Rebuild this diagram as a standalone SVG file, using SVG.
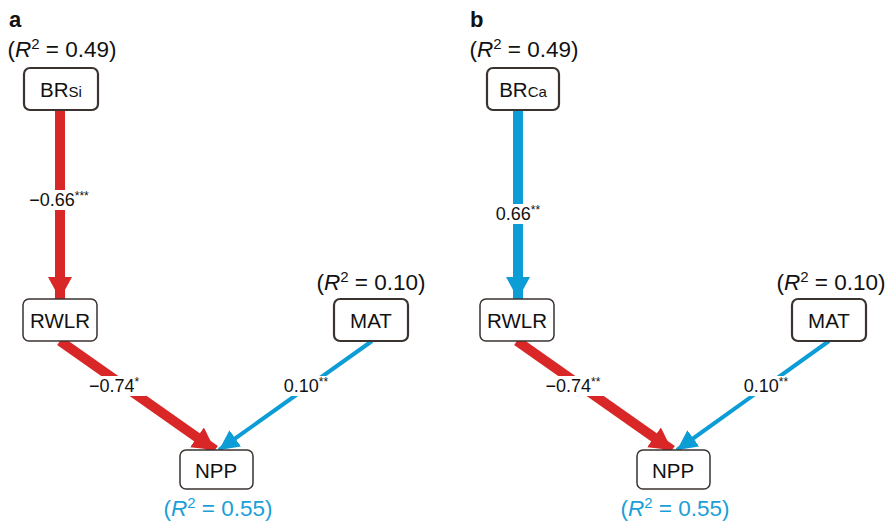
<svg xmlns="http://www.w3.org/2000/svg" width="885" height="521" viewBox="0 0 885 521">
<style>
text{font-family:"Liberation Sans",Arial,sans-serif;fill:#111}
.box{fill:#fff;stroke:#3a3330;stroke-width:1.5}
.thick{stroke-width:2.2}
.lbl{font-size:20.5px;text-anchor:middle}
.r2{font-size:22.5px;text-anchor:middle}
.coef{font-size:18px;text-anchor:middle}
.panel{font-size:22px;font-weight:bold}
.red{stroke:#d92727;fill:none}
.blue{stroke:#0d9dd6;fill:none}
.bg{fill:#fff}
</style>
<defs>
<marker id="hr" markerUnits="userSpaceOnUse" markerWidth="26" markerHeight="26" refX="22" refY="12" orient="auto"><path d="M0,0 L22,12 L0,24 Z" fill="#d92727"/></marker>
<marker id="hb" markerUnits="userSpaceOnUse" markerWidth="24" markerHeight="24" refX="20" refY="10" orient="auto"><path d="M0,0 L20,10 L0,20 Z" fill="#0d9dd6"/></marker>
<marker id="hbb" markerUnits="userSpaceOnUse" markerWidth="26" markerHeight="26" refX="22" refY="12" orient="auto"><path d="M0,0 L22,12 L0,24 Z" fill="#0d9dd6"/></marker>
</defs>
<g id="connectors">
<line class="red" x1="60" y1="111" x2="60" y2="299" stroke-width="10" marker-end="url(#hr)"/>
<line class="red" x1="60" y1="341" x2="215" y2="450" stroke-width="10" marker-end="url(#hr)"/>
<line class="blue" x1="372" y1="341" x2="219" y2="450" stroke-width="4" marker-end="url(#hb)"/>
<line class="blue" x1="518" y1="111" x2="518" y2="299" stroke-width="10" marker-end="url(#hbb)"/>
<line class="red" x1="517" y1="341" x2="672" y2="450" stroke-width="10" marker-end="url(#hr)"/>
<line class="blue" x1="829" y1="341" x2="677" y2="450" stroke-width="4" marker-end="url(#hb)"/>
<rect class="bg" x="22" y="190" width="74" height="20"/>
<text class="coef" x="59" y="206">−0.66<tspan font-size="12" dy="-6">***</tspan></text>
<rect class="bg" x="86" y="376" width="60" height="20"/>
<text class="coef" x="114" y="392">−0.74<tspan font-size="12" dy="-6">*</tspan></text>
<rect class="bg" x="276" y="376" width="60" height="20"/>
<text class="coef" x="306" y="392">0.10<tspan font-size="12" dy="-6">**</tspan></text>
<rect class="bg" x="487" y="204" width="62" height="20"/>
<text class="coef" x="518" y="220">0.66<tspan font-size="12" dy="-6">**</tspan></text>
<rect class="bg" x="539" y="376" width="68" height="20"/>
<text class="coef" x="573" y="392">−0.74<tspan font-size="12" dy="-6">**</tspan></text>
<rect class="bg" x="737" y="376" width="58" height="20"/>
<text class="coef" x="766" y="392">0.10<tspan font-size="12" dy="-6">**</tspan></text>
</g>
<text class="panel" x="9" y="27">a</text>
<text class="panel" x="470" y="27">b</text>
<g id="a-BRSi">
<text class="r2" x="62" y="57">(<tspan font-style="italic">R</tspan><tspan font-size="15" dy="-8">2</tspan><tspan dy="8"> = 0.49)</tspan></text>
<rect class="box thick" x="24" y="68" width="74" height="42" rx="6"/>
<text class="lbl" x="61" y="97">BR<tspan font-size="15">Si</tspan></text>
</g>
<g id="a-RWLR">
<rect class="box" x="23" y="299" width="74" height="42" rx="6"/>
<text class="lbl" x="60" y="328">RWLR</text>
</g>
<g id="a-MAT">
<text class="r2" x="371" y="290">(<tspan font-style="italic">R</tspan><tspan font-size="15" dy="-8">2</tspan><tspan dy="8"> = 0.10)</tspan></text>
<rect class="box thick" x="334" y="299" width="74" height="42" rx="6"/>
<text class="lbl" x="371" y="328">MAT</text>
</g>
<g id="a-NPP">
<rect class="box" x="180" y="450" width="73" height="39" rx="6"/>
<text class="lbl" x="216" y="478">NPP</text>
<text class="r2" x="218" y="516" style="fill:#1a9fd8">(<tspan font-style="italic" style="fill:#1a9fd8">R</tspan><tspan font-size="15" dy="-8" style="fill:#1a9fd8">2</tspan><tspan dy="8" style="fill:#1a9fd8"> = 0.55)</tspan></text>
</g>
<g id="b-BRCa">
<text class="r2" x="524" y="57">(<tspan font-style="italic">R</tspan><tspan font-size="15" dy="-8">2</tspan><tspan dy="8"> = 0.49)</tspan></text>
<rect class="box thick" x="487" y="68" width="72" height="42" rx="6"/>
<text class="lbl" x="523" y="97">BR<tspan font-size="15">Ca</tspan></text>
</g>
<g id="b-RWLR">
<rect class="box" x="480" y="299" width="74" height="42" rx="6"/>
<text class="lbl" x="517" y="328">RWLR</text>
</g>
<g id="b-MAT">
<text class="r2" x="831" y="290">(<tspan font-style="italic">R</tspan><tspan font-size="15" dy="-8">2</tspan><tspan dy="8"> = 0.10)</tspan></text>
<rect class="box thick" x="792" y="299" width="74" height="42" rx="6"/>
<text class="lbl" x="829" y="328">MAT</text>
</g>
<g id="b-NPP">
<rect class="box" x="637" y="450" width="73" height="39" rx="6"/>
<text class="lbl" x="673" y="478">NPP</text>
<text class="r2" x="675" y="516" style="fill:#1a9fd8">(<tspan font-style="italic" style="fill:#1a9fd8">R</tspan><tspan font-size="15" dy="-8" style="fill:#1a9fd8">2</tspan><tspan dy="8" style="fill:#1a9fd8"> = 0.55)</tspan></text>
</g>
</svg>
